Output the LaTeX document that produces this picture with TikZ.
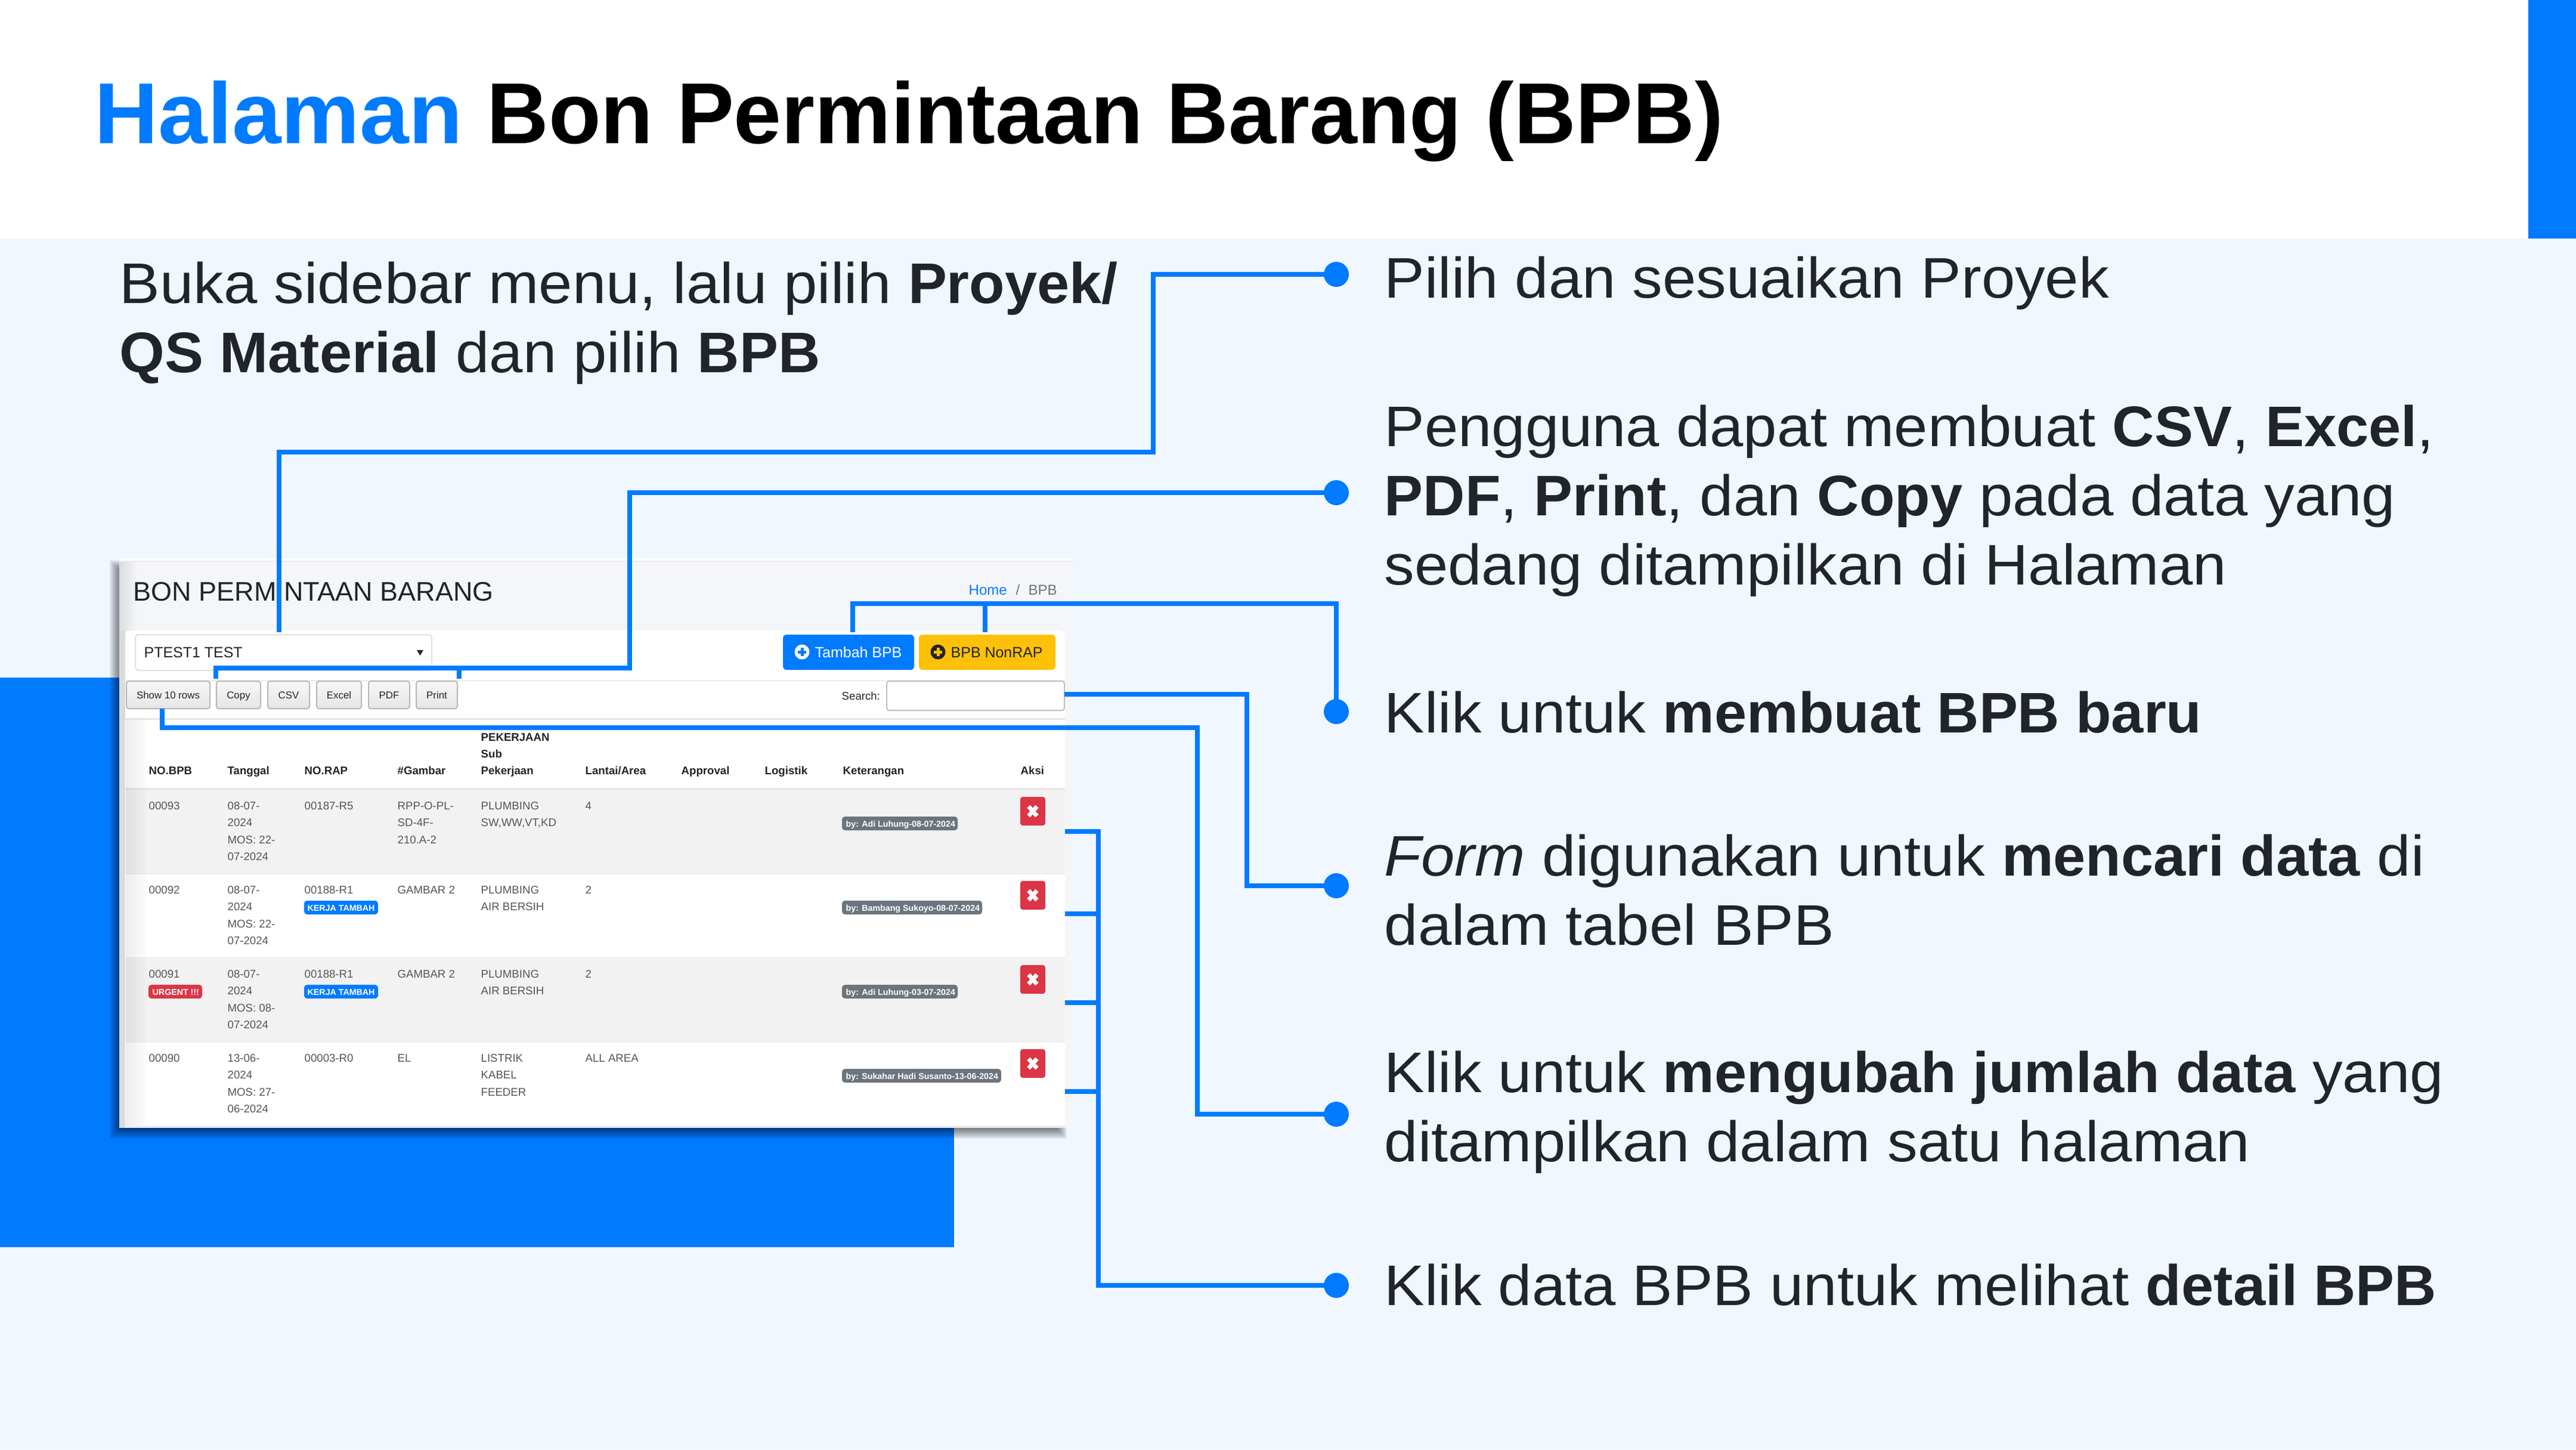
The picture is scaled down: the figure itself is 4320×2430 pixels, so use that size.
\documentclass[tikz,border=0pt]{standalone}
\usepackage{fontspec}
\usetikzlibrary{fadings}
\setmainfont{Liberation Sans}
\newfontfamily\bodyfont[FakeStretch=1.055,BoldFeatures={FakeStretch=1.015}]{Liberation Sans}
\newfontfamily\titlefont[FakeStretch=0.99]{Liberation Sans}
\newfontfamily\leadfont[FakeStretch=1.022]{Liberation Sans}
\definecolor{brand}{HTML}{007BFF}
\definecolor{pale}{HTML}{F0F7FF}
\definecolor{ink}{HTML}{212529}
\definecolor{panel}{HTML}{F4F6F9}
\definecolor{cellink}{HTML}{555555}
\definecolor{rowgrey}{HTML}{F2F2F2}
\definecolor{warn}{HTML}{FFC107}
\definecolor{danger}{HTML}{DC3545}
\definecolor{badgegrey}{HTML}{6C757D}
\tikzset{
  callout/.style={draw=brand, line width=0.8mm},
  dot/.style={circle, fill=brand, minimum size=4.2mm, inner sep=0},
  txt/.style={anchor=base west, inner sep=0, align=left},
  body/.style={txt, text=ink, font=\bodyfont\fontsize{27.3}{33}\selectfont},
  cell/.style={txt, text=cellink, font=\fontsize{5.3}{8.14}\selectfont},
  head/.style={txt, text=ink, font=\bfseries\fontsize{5.3}{7.9}\selectfont},
  btn/.style={draw=black!28, line width=0.2mm, rounded corners=0.4mm, top color=white!97!black, bottom color=white!90!black},
  btntxt/.style={anchor=base, inner sep=0, text=ink, font=\fontsize{4.8}{6}\selectfont},
  badge/.style={rounded corners=0.5mm, fill=#1},
  badgetxt/.style={anchor=base west, inner sep=0, text=white, font=\bfseries\fontsize{4.05}{5}\selectfont}
}
\begin{document}
\begin{tikzpicture}[x=0.1mm, y=-0.1mm]
\useasboundingbox (0,0) rectangle (4320,2430);
% slide
\fill[white] (0,0) rectangle (4320,2430);
\fill[pale] (0,400) rectangle (4320,2430);
\fill[brand] (4240,0) rectangle (4320,400);
\fill[brand] (0,1136) rectangle (1600,2091);
\node[txt, font=\titlefont\bfseries\fontsize{41.26}{50}\selectfont] (title) at (158,240) {{\leadfont\bfseries\textcolor{brand}{Halaman}} Bon Permintaan Barang (BPB)};
\node[body] (intro) at (200,624) {Buka sidebar menu, lalu pilih \textbf{Proyek/}\\\textbf{QS Material} dan pilih \textbf{BPB}};
% screenshot
\foreach \d in {1,3,...,19}
  \fill[black, opacity=0.065] (203-\d,958-\d) rectangle (1770+\d,1890+\d);
\fill[white] (200,936) rectangle (1800,940);
\fill[panel] (200,940) rectangle (1800,1891);
\fill[black!8] (200,940) rectangle (1800,942);
\fill[black, opacity=0.1, path fading=east] (200,942) rectangle (230,1057);
\fill[white, rounded corners=1mm] (210,1057) rectangle (1786,1100);
\fill[white] (210,1070) rectangle (1786,1888);
\fill[black!14] (200,1057) rectangle (210,1891);
\fill[black!8] (210,1888) rectangle (1786,1891);
\node[txt, text=ink, font=\fontsize{12.8}{15}\selectfont] (pagetitle) at (223,1007) {BON PERMINTAAN BARANG};
\node[txt, text=brand, font=\fontsize{6.83}{8}\selectfont] (home) at (1624,997) {Home};
\node[txt, text=badgegrey, font=\fontsize{6.83}{8}\selectfont] (slash) at (1703,997) {/};
\node[txt, text=badgegrey, font=\fontsize{6.83}{8}\selectfont] (crumb) at (1724,997) {BPB};
% select and buttons
\draw[black!12, line width=0.2mm, rounded corners=0.6mm, fill=white] (227,1064) rectangle (724,1124);
\node[txt, text=ink, font=\fontsize{7.1}{9}\selectfont] (project) at (241,1102) {PTEST1 TEST};
\fill[ink] (699,1090) -- (710,1090) -- (704.5,1099) -- cycle;
\fill[brand, rounded corners=0.6mm] (1313,1064) rectangle (1533,1123);
\fill[white] (1345,1093) circle (12.5);
\draw[brand, line width=0.5mm] (1338,1093) -- (1352,1093) (1345,1086) -- (1345,1100);
\node[txt, text=white, font=\fontsize{7.1}{9}\selectfont] (tambah) at (1366,1102) {Tambah BPB};
\fill[warn, rounded corners=0.6mm] (1541,1064) rectangle (1770,1123);
\fill[ink] (1573,1093) circle (12.5);
\draw[warn, line width=0.5mm] (1566,1093) -- (1580,1093) (1573,1086) -- (1573,1100);
\node[txt, text=ink, font=\fontsize{7.1}{9}\selectfont] (nonrap) at (1594,1102) {BPB NonRAP};
\fill[black!8] (210,1140) rectangle (1786,1142);
\fill[black!10] (210,1204) rectangle (1786,1207);
\foreach \a/\b/\lbl in {212/352/Show 10 rows, 363/437/Copy, 449/519/CSV, 531/606/Excel, 618/687/PDF, 698/767/Print}{
  \draw[btn] (\a,1142) rectangle (\b,1188);
  \node[btntxt] (btn\a) at ({(\a+\b)/2},1171) {\lbl};
}
\node[txt, text=ink, font=\fontsize{5.3}{7}\selectfont] (searchlbl) at (1411,1173) {Search:};
\draw[black!25, line width=0.2mm, rounded corners=0.4mm, fill=white] (1487,1142) rectangle (1785,1191);
% table
\foreach \x/\lbl in {249/NO.BPB, 381/Tanggal, 510/NO.RAP, 666/\#Gambar, 981/Lantai\slash Area, 1142/Approval, 1282/Logistik, 1413/Keterangan, 1711/Aksi}
  \node[head] (head\x) at (\x,1298) {\lbl};
\node[head] (headjob) at (806,1298) {PEKERJAAN\\Sub\\Pekerjaan};
\fill[rowgrey] (211,1323) rectangle (1786,1465);
\fill[rowgrey] (211,1606) rectangle (1786,1747);
\fill[black!10] (211,1321) rectangle (1786,1324);
\fill[black!7] (211,1464) rectangle (1786,1465.5);
\fill[black!7] (211,1605) rectangle (1786,1606.5);
\fill[black!7] (211,1746.5) rectangle (1786,1748);
\fill[black, opacity=0.07, path fading=east] (211,1207) rectangle (250,1888);
\foreach \n/\ry/\nob/\tgl/\rap/\gbr/\gl/\job/\jl/\lnt/\btop/\bbot/\bw/\by in {
  93/1357/00093/{08-07-\\2024\\MOS: 22-\\07-2024}/00187-R5/{RPP-O-PL-\\SD-4F-\\210.A-2}/2/{PLUMBING\\SW,WW,VT,KD}/1/4/1369/1392/1606/{by: Adi Luhung-08-07-2024},
  92/1498/00092/{08-07-\\2024\\MOS: 22-\\07-2024}/00188-R1/{GAMBAR 2}/0/{PLUMBING\\AIR BERSIH}/1/2/1510/1533/1647/{by: Bambang Sukoyo-08-07-2024},
  91/1639/00091/{08-07-\\2024\\MOS: 08-\\07-2024}/00188-R1/{GAMBAR 2}/0/{PLUMBING\\AIR BERSIH}/1/2/1651/1674/1606/{by: Adi Luhung-03-07-2024},
  90/1780/00090/{13-06-\\2024\\MOS: 27-\\06-2024}/00003-R0/EL/0/{LISTRIK\\KABEL\\FEEDER}/2/{ALL AREA}/1792/1815/1679/{by: Sukahar Hadi Susanto-13-06-2024}}{
  \node[cell] (no\n) at (249,\ry) {\nob};
  \node[cell] (tgl\n) at (381,\ry+85.8) {\tgl};
  \node[cell] (rap\n) at (510,\ry) {\rap};
  \node[cell] (gbr\n) at (666,\ry+\gl*28.6) {\gbr};
  \node[cell] (job\n) at (806,\ry+\jl*28.6) {\job};
  \node[cell] (lnt\n) at (981,\ry) {\lnt};
  \fill[badge=badgegrey] (1412,\btop) rectangle (\bw,\bbot);
  \node[badgetxt] (by\n) at (1418,\ry+29) {\by};
  \fill[danger, rounded corners=0.4mm] (1711,\ry-21) rectangle (1753,\ry+27);
  \draw[white, line width=0.7mm] (1725,\ry-5) -- (1739,\ry+11) (1739,\ry-5) -- (1725,\ry+11);
}
\foreach \n/\ry in {92/1498, 91/1639}{
  \fill[badge=brand] (510,\ry+12) rectangle (634,\ry+35);
  \node[badgetxt] (kt\n) at (515,\ry+29) {KERJA TAMBAH};
}
\fill[badge=danger] (249,1651) rectangle (339,1674);
\node[badgetxt] (urgent) at (255,1668) {URGENT !!!};
\fill[black!6] (211,1886.5) rectangle (1786,1888);
% captions
\node[body] (capProyek) at (2321,499) {Pilih dan sesuaikan Proyek};
\node[body] (capExport) at (2321,980) {Pengguna dapat membuat \textbf{CSV}, \textbf{Excel},\\\textbf{PDF}, \textbf{Print}, dan \textbf{Copy} pada data yang\\sedang ditampilkan di Halaman};
\node[body] (capTambah) at (2321,1228) {Klik untuk \textbf{membuat BPB baru}};
\node[body] (capForm) at (2321,1584) {\textit{Form} digunakan untuk \textbf{mencari data} di\\dalam tabel BPB};
\node[body] (capRows) at (2321,1947) {Klik untuk \textbf{mengubah jumlah data} yang\\ditampilkan dalam satu halaman};
\node[body] (capDetail) at (2321,2188) {Klik data BPB untuk melihat \textbf{detail BPB}};
% callouts
\node[dot] (dotProyek) at (2241,460) {};
\node[dot] (dotExport) at (2241,826) {};
\node[dot] (dotTambah) at (2241,1193) {};
\node[dot] (dotForm) at (2241,1485) {};
\node[dot] (dotRows) at (2241,1868) {};
\node[dot] (dotDetail) at (2241,2155) {};
\coordinate (bendProyek) at (1934,758);
\coordinate (tipProyek) at (468,1060);
\coordinate (bendExport) at (1056,1120);
\coordinate (tipCopy) at (362,1138);
\coordinate (joinPrint) at (770,1120);
\coordinate (tipPrint) at (770,1138);
\coordinate (bendTambah) at (1430,1012);
\coordinate (tipTambah) at (1430,1060);
\coordinate (joinNonrap) at (1652,1012);
\coordinate (tipNonrap) at (1652,1060);
\coordinate (bendForm) at (2091,1164);
\coordinate (tipForm) at (1785,1164);
\coordinate (bendRows) at (2008,1220);
\coordinate (tipRows) at (272,1188);
\coordinate (bendDetail) at (1842,1394);
\coordinate (tipDetail) at (1786,1394);
\draw[callout] (dotProyek.center) -| (bendProyek) -| (tipProyek);
\draw[callout] (dotExport.center) -| (bendExport) -| (tipCopy);
\draw[callout] (joinPrint) -- (tipPrint);
\draw[callout] (dotTambah.center) |- (bendTambah) -- (tipTambah);
\draw[callout] (joinNonrap) -- (tipNonrap);
\draw[callout] (dotForm.center) -| (bendForm) -- (tipForm);
\draw[callout] (dotRows.center) -| (bendRows) -| (tipRows);
\draw[callout] (dotDetail.center) -| (bendDetail) -- (tipDetail);
\foreach \y in {1532,1681,1830}{
  \coordinate (tapOut\y) at (1786,\y);
  \coordinate (tapIn\y) at (1842,\y);
  \draw[callout] (tapOut\y) -- (tapIn\y);
}
\end{tikzpicture}
\end{document}
